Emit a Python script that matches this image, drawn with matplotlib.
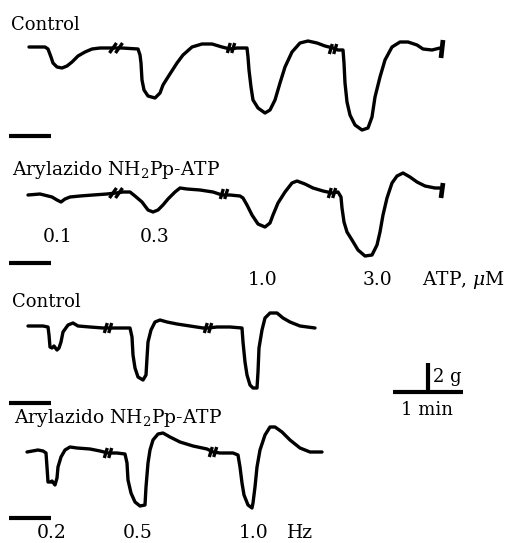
import matplotlib
matplotlib.use('Agg')
import matplotlib.pyplot as plt

plt.rcParams['font.family'] = ['DejaVu Serif']
plt.rcParams['mathtext.fontset'] = 'dejavuserif'

# traces (x, y in picture pixels, y grows downward)
atp_ctrl_x = [29, 45, 48, 51, 53, 57, 62, 67, 72, 78, 85, 92, 100, 110, 122, 138, 140, 141, 142, 144, 148, 155,
              160, 163, 168, 177, 183, 192, 202, 212, 222, 230, 237, 247, 248, 249, 251, 253, 258, 265, 270, 275,
              280, 285, 292, 300, 308, 317, 325, 333, 338, 343, 344, 345, 347, 350, 355, 362, 368, 372, 375, 380,
              385, 392, 400, 408, 417, 423, 432, 440]
atp_ctrl_y = [47, 47, 49, 57, 63, 67, 68, 66, 62, 56, 52, 49, 48, 48, 48, 49, 55, 63, 80, 90, 96, 98,
              93, 85, 77, 63, 55, 47, 44, 44, 47, 49, 48, 48, 57, 70, 87, 100, 108, 113, 110, 100,
              83, 67, 52, 43, 41, 43, 46, 48, 50, 50, 63, 83, 102, 115, 125, 130, 128, 117, 97, 77,
              60, 47, 42, 42, 45, 49, 50, 48]

atp_aryl_x = [28, 40, 52, 57, 61, 65, 70, 80, 93, 107, 116, 123, 130, 135, 142, 148, 153, 158, 163, 168, 175, 180,
              187, 200, 213, 222, 230, 240, 243, 247, 252, 258, 265, 270, 273, 278, 285, 292, 297, 305, 313, 323,
              332, 338, 341, 342, 344, 347, 352, 358, 365, 372, 377, 380, 383, 387, 392, 397, 403, 410, 417, 425,
              435, 440]
atp_aryl_y = [195, 194, 197, 200, 202, 199, 197, 196, 195, 194, 193, 192, 192, 196, 202, 210, 212, 210, 205, 199, 192, 188,
              189, 190, 192, 195, 195, 196, 198, 205, 215, 224, 227, 223, 215, 203, 192, 183, 181, 184, 188, 191,
              193, 192, 197, 208, 222, 232, 240, 250, 256, 255, 245, 232, 215, 198, 183, 176, 173, 177, 182, 186,
              188, 188]

hz_ctrl_x = [28, 43, 48, 49, 50, 52, 54, 57, 59, 61, 63, 68, 73, 78, 90, 103, 108, 117, 130, 132, 133, 135, 138,
             143, 146, 147, 148, 151, 155, 160, 167, 177, 190, 203, 208, 217, 230, 242, 243, 245, 247, 250, 253,
             257, 258, 259, 262, 265, 270, 277, 283, 290, 300, 315]
hz_ctrl_y = [326, 326, 327, 335, 347, 348, 346, 350, 348, 342, 332, 325, 323, 326, 327, 328, 328, 328, 328, 337, 355, 368, 377,
             380, 375, 358, 342, 330, 322, 320, 322, 324, 326, 328, 328, 327, 327, 328, 342, 362, 375, 385, 388,
             388, 372, 348, 330, 318, 313, 313, 318, 322, 326, 328]

hz_aryl_x = [27, 38, 43, 46, 47, 48, 51, 52, 55, 57, 58, 61, 65, 70, 77, 90, 100, 108, 117, 125, 127, 128, 131,
             135, 140, 145, 146, 148, 150, 153, 158, 163, 170, 180, 193, 207, 213, 220, 233, 238, 240, 242, 244,
             248, 252, 253, 255, 257, 260, 265, 270, 275, 282, 290, 300, 310, 322]
hz_aryl_y = [452, 450, 451, 453, 467, 482, 482, 481, 485, 478, 467, 457, 450, 447, 448, 449, 451, 453, 453, 454, 463, 480, 493,
             502, 506, 505, 487, 463, 450, 440, 434, 433, 437, 442, 446, 449, 452, 453, 453, 455, 467, 483, 495,
             505, 508, 503, 487, 467, 450, 435, 427, 427, 432, 440, 448, 452, 452]

# break marks on each trace
breaks_x = [[116, 231, 333], [116, 224, 332], [108, 208], [108, 213]]
breaks_y = [[48, 48, 49], [193, 194, 193], [328, 328], [453, 452]]

# end bars of the ATP traces
end_x = [442, 442]
end_top = [40, 183]
end_bottom = [58, 198]

# short bars under each trace
bar_y = [136, 263, 403, 518]

conc_labels = ['0.1', '0.3', '1.0', '3.0']
conc_x = [58, 155, 263, 377]
conc_y = [237, 237, 280, 280]

freq_labels = ['0.2', '0.5', '1.0', 'Hz']
freq_x = [52, 138, 254, 300]

fig = plt.figure(figsize=(5.14, 5.43), dpi=100)
ax = fig.add_axes([0, 0, 1, 1])
ax.set_xlim(0, 514)
ax.set_ylim(543, 0)
ax.axis('off')

lw = 2.4
for xs, ys in [(atp_ctrl_x, atp_ctrl_y), (atp_aryl_x, atp_aryl_y), (hz_ctrl_x, hz_ctrl_y), (hz_aryl_x, hz_aryl_y)]:
    ax.plot(xs, ys, color='black', lw=lw, solid_joinstyle='round', solid_capstyle='round')

for i, (bx, by) in enumerate(zip(breaks_x, breaks_y)):
    for j, (x, y) in enumerate(zip(bx, by)):
        # the first break on the ATP traces is drawn as a wider "//"
        slant = 3.5 if (j == 0 and i < 2) else 1.5
        gap = 3.0 if (j == 0 and i < 2) else 2.2
        for dx in (-gap, gap):
            ax.plot([x + dx - slant, x + dx + slant], [y + 5, y - 5], color='black', lw=2.4, solid_capstyle='butt')

for x, t, b in zip(end_x, end_top, end_bottom):
    ax.plot([x - 1, x + 1], [b, t], color='black', lw=3.4, solid_capstyle='butt')

for y in bar_y:
    ax.plot([9, 51], [y, y], color='black', lw=3.0, solid_capstyle='butt')

# calibration
ax.plot([393, 463], [392, 392], color='black', lw=3.0, solid_capstyle='butt')
ax.plot([428, 428], [363, 392], color='black', lw=3.0, solid_capstyle='butt')
ax.text(433, 377, '2 g', fontsize=13, ha='left', va='center')
ax.text(427, 410, '1 min', fontsize=13, ha='center', va='center')

ax.text(11, 25, 'Control', fontsize=13, ha='left', va='center')
ax.text(12, 170, 'Arylazido NH$_2$Pp-ATP', fontsize=13.5, ha='left', va='center')
ax.text(12, 302, 'Control', fontsize=13, ha='left', va='center')
ax.text(14, 418, 'Arylazido NH$_2$Pp-ATP', fontsize=13.5, ha='left', va='center')

for lab, x, y in zip(conc_labels, conc_x, conc_y):
    ax.text(x, y, lab, fontsize=13.5, ha='center', va='center')
ax.text(422, 280, 'ATP, $\\mu$M', fontsize=13.5, ha='left', va='center')

for lab, x in zip(freq_labels, freq_x):
    ax.text(x, 542, lab, fontsize=13.5, ha='center', va='bottom')

fig.savefig('out.png', dpi=100)
